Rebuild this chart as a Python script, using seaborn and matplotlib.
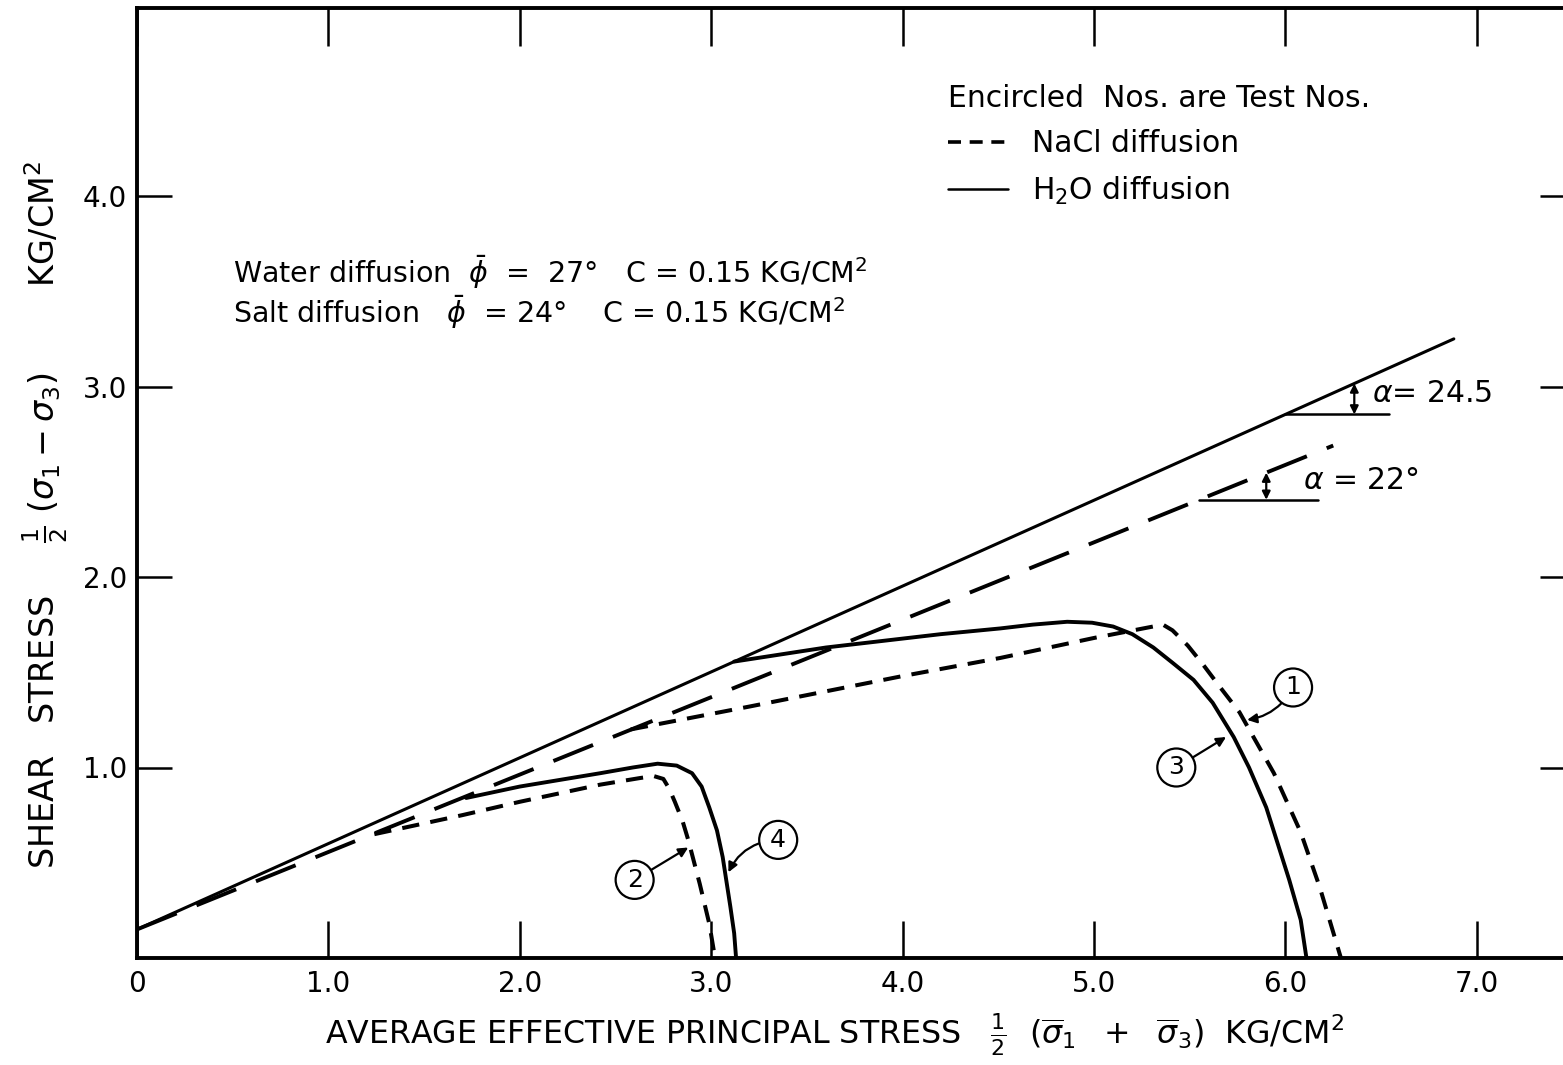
import numpy as np
import pandas as pd
import matplotlib
matplotlib.use("Agg")
import matplotlib.pyplot as plt
from matplotlib.lines import Line2D
import seaborn as sns

# ---- failure envelopes in p-q space (end points) ----
water_env_p = [0.0, 6.88]
water_env_q = [0.15, 3.25]
salt_env_p = [0.0, 6.25]
salt_env_q = [0.15, 2.69]

# ---- stress paths ----
# Test 1 : NaCl diffusion
test1_p = [2.58, 3.20, 4.00, 4.51, 5.00, 5.36, 5.41, 5.49, 5.57, 5.66, 5.76, 5.94, 6.08, 6.18, 6.29]
test1_q = [1.20, 1.32, 1.48, 1.575, 1.68, 1.75, 1.72, 1.64, 1.54, 1.42, 1.29, 0.97, 0.66, 0.37, 0.00]
# Test 2 : NaCl diffusion
test2_p = [1.24, 1.70, 2.00, 2.42, 2.63, 2.70, 2.75, 2.78, 2.81, 2.85, 2.88, 2.94, 2.99, 3.02]
test2_q = [0.65, 0.75, 0.82, 0.91, 0.945, 0.955, 0.94, 0.89, 0.82, 0.72, 0.62, 0.39, 0.18, 0.00]
# Test 3 : H2O diffusion
test3_p = [3.12, 3.60, 4.20, 4.51, 4.68, 4.86, 4.99, 5.10, 5.20, 5.31, 5.41, 5.52, 5.62, 5.73, 5.81, 5.90, 6.02, 6.08, 6.11]
test3_q = [1.556, 1.63, 1.70, 1.73, 1.75, 1.765, 1.76, 1.74, 1.70, 1.63, 1.55, 1.46, 1.34, 1.16, 1.00, 0.79, 0.41, 0.20, 0.00]
# Test 4 : H2O diffusion
test4_p = [1.72, 2.00, 2.42, 2.59, 2.72, 2.82, 2.90, 2.95, 2.99, 3.03, 3.06, 3.10, 3.12, 3.13]
test4_q = [0.84, 0.90, 0.97, 1.00, 1.02, 1.01, 0.97, 0.90, 0.79, 0.67, 0.53, 0.27, 0.13, 0.00]

# encircled test numbers and where their arrows point
test_ids = ["1", "2", "3", "4"]
id_p = [6.04, 2.60, 5.43, 3.35]
id_q = [1.42, 0.41, 1.00, 0.62]
tip_p = [5.80, 2.88, 5.69, 3.09]
tip_q = [1.25, 0.58, 1.16, 0.45]
id_rad = [-0.25, 0.0, 0.0, 0.3]

# angle markers on the envelopes
alpha_text = [r"$\alpha$= 24.5", r"$\alpha$ = 22°"]
alpha_ref_p0 = [6.00, 5.55]
alpha_ref_p1 = [6.54, 6.17]
alpha_arrow_p = [6.36, 5.90]
alpha_text_p = [6.45, 6.09]

x_ticks = [0, 1, 2, 3, 4, 5, 6, 7]
x_ticklabels = ["0", "1.0", "2.0", "3.0", "4.0", "5.0", "6.0", "7.0"]
y_ticks = [1, 2, 3, 4]
y_ticklabels = ["1.0", "2.0", "3.0", "4.0"]

sns.set_theme(style="white")
plt.rcParams["font.family"] = ["DejaVu Sans"]
plt.rcParams["mathtext.fontset"] = "dejavusans"
plt.rcParams["text.color"] = "black"
plt.rcParams["axes.labelcolor"] = "black"

W, H = 1563, 1065
fig = plt.figure(figsize=(W / 100, H / 100), dpi=100)
fig.patch.set_facecolor("white")
ax = fig.add_axes([137 / W, 107 / H, (1575 - 137) / W, 950 / H])
ax.set_facecolor("white")

long_dash = (0, (11, 5.5))
short_dash = (0, (4.3, 2.8))

def path(p, q, ls, lw):
    df = pd.DataFrame({"p": p, "q": q})
    sns.lineplot(data=df, x="p", y="q", sort=False, estimator=None,
                 color="black", linewidth=lw, linestyle=ls, ax=ax)

path(water_env_p, water_env_q, "-", 2.2)
path(salt_env_p, salt_env_q, long_dash, 2.8)
path(test1_p, test1_q, short_dash, 2.9)
path(test2_p, test2_q, short_dash, 2.9)
path(test3_p, test3_q, "-", 2.8)
path(test4_p, test4_q, "-", 2.8)

# angle markers
env_slopes = [
    (water_env_q[1] - water_env_q[0]) / (water_env_p[1] - water_env_p[0]),
    (salt_env_q[1] - salt_env_q[0]) / (salt_env_p[1] - salt_env_p[0]),
]
env_c = [water_env_q[0], salt_env_q[0]]
for i in range(2):
    q_ref = env_c[i] + env_slopes[i] * alpha_ref_p0[i]
    ax.plot([alpha_ref_p0[i], alpha_ref_p1[i]], [q_ref, q_ref], color="black", lw=1.8)
    q_env = env_c[i] + env_slopes[i] * alpha_arrow_p[i]
    ax.annotate("", xy=(alpha_arrow_p[i], q_ref), xytext=(alpha_arrow_p[i], q_env),
                arrowprops=dict(arrowstyle="<|-|>", color="black", lw=1.6,
                                mutation_scale=12, shrinkA=0, shrinkB=0))
    ax.text(alpha_text_p[i], (q_ref + q_env) / 2 + 0.03, alpha_text[i],
            fontsize=21.5, ha="left", va="center")

# encircled test numbers
for lab, cp, cq, tp, tq, rad in zip(test_ids, id_p, id_q, tip_p, tip_q, id_rad):
    ax.annotate(lab, xy=(tp, tq), xytext=(cp, cq), fontsize=18, ha="center", va="center",
                bbox=dict(boxstyle="circle,pad=0.28", fc="white", ec="black", lw=1.6),
                arrowprops=dict(arrowstyle="-|>", color="black", lw=1.6, mutation_scale=14,
                                shrinkA=0, shrinkB=0, connectionstyle=f"arc3,rad={rad}"))

# strength parameters
ax.text(0.50, 3.60, r"Water diffusion  $\bar{\phi}$  =  27°   C = 0.15 KG/CM$^2$",
        fontsize=20.5, ha="left", va="center")
ax.text(0.50, 3.39, r"Salt diffusion   $\bar{\phi}$  = 24°    C = 0.15 KG/CM$^2$",
        fontsize=20.5, ha="left", va="center")

# key
handles = [Line2D([], [], color="black", lw=2.6, linestyle=(0, (3.6, 2.4))),
           Line2D([], [], color="black", lw=1.8, linestyle="-")]
leg = ax.legend(handles, ["NaCl diffusion", r"H$_2$O diffusion"],
                title="Encircled  Nos. are Test Nos.", title_fontsize=21.5, fontsize=21.5,
                loc="upper left", bbox_to_anchor=((948 - 137) / 1438, (958 - 84) / 950),
                frameon=False, handlelength=2.0, handletextpad=0.8, labelspacing=0.55,
                borderpad=0, borderaxespad=0, alignment="left")
leg.get_title().set_color("black")
for t in leg.get_texts():
    t.set_color("black")

ax.set_xlim(0, (1575 - 137) / 191.4)
ax.set_ylim(0, 950 / 190.5)
ax.set_xticks(x_ticks)
ax.set_xticklabels(x_ticklabels, fontsize=20)
ax.set_yticks(y_ticks)
ax.set_yticklabels(y_ticklabels, fontsize=20)
ax.tick_params(axis="x", direction="in", length=27, width=1.8, top=True, bottom=True,
               pad=9, colors="black")
ax.tick_params(axis="y", direction="in", length=25, width=1.8, left=True, right=True,
               pad=7, colors="black")
for s in ax.spines.values():
    s.set_linewidth(2.8)
    s.set_color("black")

ax.set_xlabel(r"AVERAGE EFFECTIVE PRINCIPAL STRESS   $\frac{1}{2}\ \ (\overline{\sigma}_{1}\ \ +\ \ \overline{\sigma}_{3})$  KG/CM$^2$",
              fontsize=22.8)
ax.xaxis.set_label_coords((835 - 137) / 1438, (958 - 1035) / 950)
ax.xaxis.label.set_va("center")
ax.set_ylabel(r"SHEAR   STRESS     $\frac{1}{2}\ (\sigma_{1} - \sigma_{3})$        KG/CM$^2$",
              fontsize=24)
ax.yaxis.set_label_coords((45 - 137) / 1438, (958 - 515) / 950)
ax.yaxis.label.set_va("center")

fig.savefig("out.png", dpi=100, facecolor="white")
